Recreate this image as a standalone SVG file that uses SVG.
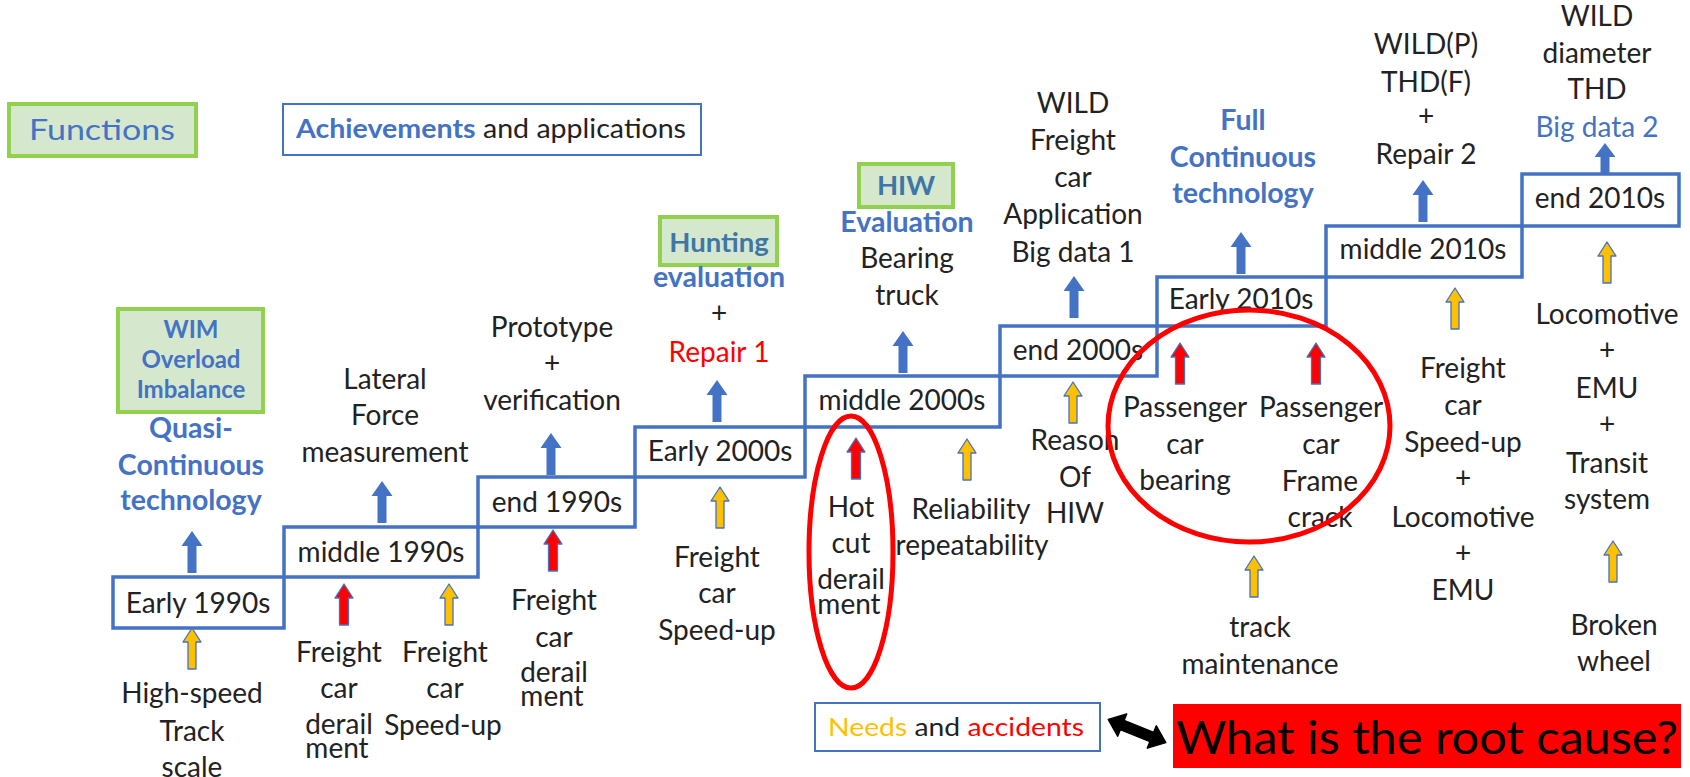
<svg xmlns="http://www.w3.org/2000/svg" width="1690" height="777" viewBox="0 0 1690 777">
  <style>
    text { font-family: Lato, "Open Sans", "Liberation Sans", sans-serif; text-anchor: middle; }
    .t { font-size: 28px; fill: #222222; }
    .bl { font-size: 28.5px; fill: #4472C4; font-weight: 700; }
    .blr { font-size: 28px; fill: #4472C4; }
    .red { font-size: 28px; fill: #FF0000; }
    .fn { font-size: 27.5px; fill: #3F76A8; font-weight: 700; }
    .wim { font-size: 24px; fill: #4472C4; font-weight: 700; }
    .step { fill: #FFFFFF; stroke: #4472C4; stroke-width: 3.5; }
    .green { fill: #D5E8CD; stroke: #92D050; stroke-width: 4; }
    .legend { fill: #FFFFFF; stroke: #4472C4; stroke-width: 2; }
    .ring { fill: none; stroke: #FF0000; stroke-width: 5; }
  </style>
  <defs>
    <!-- block arrows: tip at (0,0), pointing up -->
    <path id="blueArrow" d="M0,0 L10.5,15 L4.5,15 L4.5,42 L-4.5,42 L-4.5,15 L-10.5,15 Z" fill="#4472C4"/>
    <path id="blueArrowShort" d="M0,0 L10.5,14 L4.5,14 L4.5,30 L-4.5,30 L-4.5,14 L-10.5,14 Z" fill="#4472C4"/>
    <path id="needArrow" d="M0,0 L9,14 L4,14 L4,41 L-4,41 L-4,14 L-9,14 Z" fill="#FFC000" stroke="#4472C4" stroke-width="1.3" stroke-linejoin="round"/>
    <path id="accArrow" d="M0,0 L9,14 L4.5,14 L4.5,41 L-4.5,41 L-4.5,14 L-9,14 Z" fill="#FF0000" stroke="#4472C4" stroke-width="1.3" stroke-linejoin="round"/>
  </defs>

  <rect width="1690" height="777" fill="#FFFFFF"/>

  <!-- legend -->
  <g id="legend-functions">
    <rect class="green" x="9" y="104" width="187" height="52"/>
    <text x="102" y="140" style="font-size:29px;fill:#4472C4" textLength="146" lengthAdjust="spacingAndGlyphs">Functions</text>
  </g>
  <g id="legend-achievements">
    <rect class="legend" x="283" y="104" width="418" height="51"/>
    <text x="491" y="138" style="font-size:26px;fill:#222222" textLength="390" lengthAdjust="spacingAndGlyphs"><tspan style="fill:#4472C4;font-weight:700">Achievements</tspan> and applications</text>
  </g>
  <g id="legend-needs">
    <rect class="legend" x="815" y="703" width="285" height="48"/>
    <text x="956" y="736" style="font-size:25px;fill:#222222" textLength="256" lengthAdjust="spacingAndGlyphs"><tspan style="fill:#FFC000">Needs</tspan> and <tspan style="fill:#FF0000">accidents</tspan></text>
  </g>
  <g id="root-cause">
    <rect x="1173" y="704" width="508" height="64" fill="#FF0000"/>
    <text x="1427" y="754" style="font-size:46px;fill:#000000" textLength="502" lengthAdjust="spacingAndGlyphs">What is the root cause?</text>
  </g>

  <!-- staircase of periods -->
  <g id="early-1990s"><rect class="step" x="113" y="577" width="171" height="51"/><text class="t" x="198" y="613">Early 1990s</text></g>
  <g id="middle-1990s"><rect class="step" x="284" y="527" width="194" height="50"/><text class="t" x="381" y="562">middle 1990s</text></g>
  <g id="end-1990s"><rect class="step" x="478" y="477" width="157" height="50"/><text class="t" x="557" y="512">end 1990s</text></g>
  <g id="early-2000s"><rect class="step" x="635" y="427" width="170" height="50"/><text class="t" x="720" y="461">Early 2000s</text></g>
  <g id="middle-2000s"><rect class="step" x="805" y="376" width="195" height="51"/><text class="t" x="902" y="410">middle 2000s</text></g>
  <g id="end-2000s"><rect class="step" x="1000" y="326" width="157" height="50"/><text class="t" x="1078" y="360">end 2000s</text></g>
  <g id="early-2010s"><rect class="step" x="1157" y="277" width="169" height="49"/><text class="t" x="1241" y="309">Early 2010s</text></g>
  <g id="middle-2010s"><rect class="step" x="1326" y="226" width="196" height="51"/><text class="t" x="1423" y="259">middle 2010s</text></g>
  <g id="end-2010s"><rect class="step" x="1522" y="174" width="157" height="52"/><text class="t" x="1600" y="208">end 2010s</text></g>

  <!-- achievements above each period -->
  <g id="ach-early-1990s">
    <rect class="green" x="118" y="309" width="145" height="103"/>
    <text class="wim" x="191" y="338">WIM</text>
    <text class="wim" x="191" y="368">Overload</text>
    <text class="wim" x="191" y="398">Imbalance</text>
    <text class="bl" x="191" y="438">Quasi-</text>
    <text class="bl" x="191" y="475">Continuous</text>
    <text class="bl" x="191" y="510">technology</text>
  </g>
  <g id="ach-middle-1990s">
    <text class="t" x="385" y="389">Lateral</text>
    <text class="t" x="385" y="425">Force</text>
    <text class="t" x="385" y="462">measurement</text>
  </g>
  <g id="ach-end-1990s">
    <text class="t" x="552" y="337">Prototype</text>
    <text class="t" x="552" y="373">+</text>
    <text class="t" x="552" y="410">verification</text>
  </g>
  <g id="ach-early-2000s">
    <rect class="green" x="660" y="217" width="117" height="48"/>
    <text class="fn" x="719" y="252">Hunting</text>
    <text class="bl" x="719" y="287">evaluation</text>
    <text class="t" x="719" y="323">+</text>
    <text class="red" x="719" y="362">Repair 1</text>
  </g>
  <g id="ach-middle-2000s">
    <rect class="green" x="859" y="164" width="94" height="43"/>
    <text class="fn" x="906" y="195">HIW</text>
    <text class="bl" x="907" y="232">Evaluation</text>
    <text class="t" x="907" y="268">Bearing</text>
    <text class="t" x="907" y="305">truck</text>
  </g>
  <g id="ach-end-2000s">
    <text class="t" x="1073" y="113">WILD</text>
    <text class="t" x="1073" y="150">Freight</text>
    <text class="t" x="1073" y="187">car</text>
    <text class="t" x="1073" y="224">Application</text>
    <text class="t" x="1073" y="262">Big data 1</text>
  </g>
  <g id="ach-early-2010s">
    <text class="bl" x="1243" y="130">Full</text>
    <text class="bl" x="1243" y="167">Continuous</text>
    <text class="bl" x="1243" y="203">technology</text>
  </g>
  <g id="ach-middle-2010s">
    <text class="t" x="1426" y="54">WILD(P)</text>
    <text class="t" x="1426" y="92">THD(F)</text>
    <text class="t" x="1426" y="126">+</text>
    <text class="t" x="1426" y="164">Repair 2</text>
  </g>
  <g id="ach-end-2010s">
    <text class="t" x="1597" y="26">WILD</text>
    <text class="t" x="1597" y="63">diameter</text>
    <text class="t" x="1597" y="99">THD</text>
    <text class="blr" x="1597" y="137">Big data 2</text>
  </g>

  <!-- needs and accidents below each period -->
  <g id="need-high-speed">
    <text class="t" x="192" y="703">High-speed</text>
    <text class="t" x="192" y="741">Track</text>
    <text class="t" x="192" y="777">scale</text>
  </g>
  <g id="acc-freight-1990s">
    <text class="t" x="339" y="662">Freight</text>
    <text class="t" x="339" y="698">car</text>
    <text class="t" x="339" y="734">derail</text>
    <text class="t" x="337" y="758">ment</text>
  </g>
  <g id="need-speedup-1990s">
    <text class="t" x="445" y="662">Freight</text>
    <text class="t" x="445" y="698">car</text>
    <text class="t" x="443" y="735">Speed-up</text>
  </g>
  <g id="acc-freight-end-1990s">
    <text class="t" x="554" y="610">Freight</text>
    <text class="t" x="554" y="647">car</text>
    <text class="t" x="554" y="682">derail</text>
    <text class="t" x="552" y="706">ment</text>
  </g>
  <g id="need-speedup-2000s">
    <text class="t" x="717" y="567">Freight</text>
    <text class="t" x="717" y="603">car</text>
    <text class="t" x="717" y="640">Speed-up</text>
  </g>
  <g id="acc-hot-cut">
    <text class="t" x="851" y="517">Hot</text>
    <text class="t" x="851" y="553">cut</text>
    <text class="t" x="851" y="589">derail</text>
    <text class="t" x="849" y="614">ment</text>
    <ellipse class="ring" cx="851" cy="552" rx="42" ry="136"/>
  </g>
  <g id="need-reliability">
    <text class="t" x="971" y="519">Reliability</text>
    <text class="t" x="972" y="555">repeatability</text>
  </g>
  <g id="need-reason-hiw">
    <text class="t" x="1075" y="450">Reason</text>
    <text class="t" x="1075" y="487">Of</text>
    <text class="t" x="1075" y="523">HIW</text>
  </g>
  <g id="acc-passenger">
    <text class="t" x="1185" y="417">Passenger</text>
    <text class="t" x="1185" y="454">car</text>
    <text class="t" x="1185" y="490">bearing</text>
    <text class="t" x="1321" y="417">Passenger</text>
    <text class="t" x="1321" y="454">car</text>
    <text class="t" x="1320" y="491">Frame</text>
    <text class="t" x="1320" y="527">crack</text>
    <ellipse class="ring" cx="1249" cy="426" rx="141" ry="116"/>
  </g>
  <g id="need-track">
    <text class="t" x="1260" y="637">track</text>
    <text class="t" x="1260" y="674">maintenance</text>
  </g>
  <g id="need-2010s-mid">
    <text class="t" x="1463" y="378">Freight</text>
    <text class="t" x="1463" y="415">car</text>
    <text class="t" x="1463" y="452">Speed-up</text>
    <text class="t" x="1463" y="488">+</text>
    <text class="t" x="1463" y="527">Locomotive</text>
    <text class="t" x="1463" y="563">+</text>
    <text class="t" x="1463" y="600">EMU</text>
  </g>
  <g id="need-2010s-end">
    <text class="t" x="1607" y="324">Locomotive</text>
    <text class="t" x="1607" y="360">+</text>
    <text class="t" x="1607" y="398">EMU</text>
    <text class="t" x="1607" y="434">+</text>
    <text class="t" x="1607" y="473">Transit</text>
    <text class="t" x="1607" y="509">system</text>
  </g>
  <g id="need-broken-wheel">
    <text class="t" x="1614" y="635">Broken</text>
    <text class="t" x="1614" y="671">wheel</text>
  </g>

  <!-- connectors -->
  <g id="connectors">
    <!-- period to achievement -->
    <use href="#blueArrow" x="192" y="531"/>
    <use href="#blueArrow" x="382" y="481"/>
    <use href="#blueArrow" x="551" y="433"/>
    <use href="#blueArrow" x="717" y="380"/>
    <use href="#blueArrow" x="903" y="331"/>
    <use href="#blueArrow" x="1074" y="276"/>
    <use href="#blueArrow" x="1241" y="232"/>
    <use href="#blueArrow" x="1423" y="180"/>
    <use href="#blueArrowShort" x="1605" y="143"/>
    <!-- needs -->
    <use href="#needArrow" x="192" y="628"/>
    <use href="#needArrow" x="449" y="584"/>
    <use href="#needArrow" x="720" y="487"/>
    <use href="#needArrow" x="967" y="439"/>
    <use href="#needArrow" x="1073" y="382"/>
    <use href="#needArrow" x="1254" y="556"/>
    <use href="#needArrow" x="1455" y="288"/>
    <use href="#needArrow" x="1607" y="242"/>
    <use href="#needArrow" x="1613" y="541"/>
    <!-- accidents -->
    <use href="#accArrow" x="344" y="584"/>
    <use href="#accArrow" x="553" y="530"/>
    <use href="#accArrow" x="856" y="438"/>
    <use href="#accArrow" x="1180" y="343"/>
    <use href="#accArrow" x="1316" y="343"/>
    <!-- needs/accidents to root cause -->
    <path transform="translate(1137,731) rotate(22)" d="M-31,0 L-16,-12 L-16,-5 L16,-5 L16,-12 L31,0 L16,12 L16,5 L-16,5 L-16,12 Z" fill="#000000" stroke="#000000" stroke-width="1.5" stroke-linejoin="round"/>
  </g>
</svg>
